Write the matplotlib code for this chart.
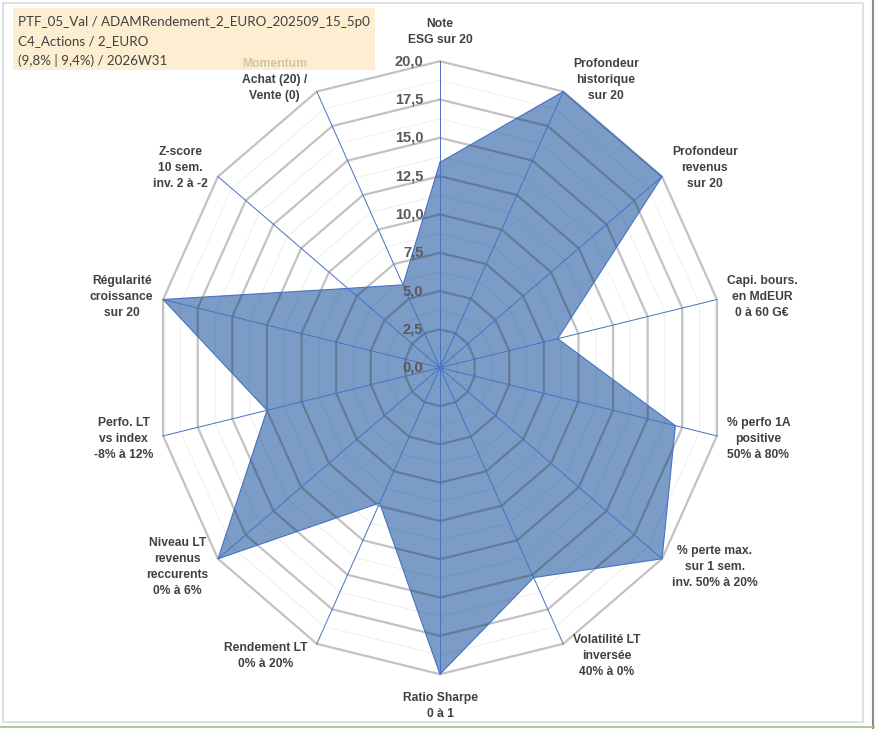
import numpy as np
import matplotlib
matplotlib.use('Agg')
import matplotlib.pyplot as plt
from matplotlib.patches import Rectangle
from matplotlib.lines import Line2D

# --- data -------------------------------------------------------------------
categories = [
    "Note\nESG sur 20",
    "Profondeur\nhistorique\nsur 20",
    "Profondeur\nrevenus\nsur 20",
    "Capi. bours.\nen MdEUR\n0 à 60 G€",
    "% perfo 1A\npositive\n50% à 80%",
    "% perte max.\nsur 1 sem.\ninv. 50% à 20%",
    "Volatilité LT\ninversée\n40% à 0%",
    "Ratio Sharpe\n0 à 1",
    "Rendement LT\n0% à 20%",
    "Niveau LT\nrevenus\nreccurents\n0% à 6%",
    "Perfo. LT\nvs index\n-8% à 12%",
    "Régularité\ncroissance\nsur 20",
    "Z-score\n10 sem.\ninv. 2 à -2",
    "Momentum\nAchat (20) /\nVente (0)",
]
values = [13.4, 20.0, 20.0, 8.5, 17.0, 20.0, 15.2, 20.0, 9.8, 20.0, 12.5, 20.0, 8.3, 6.0]
ticks = [0.0, 2.5, 5.0, 7.5, 10.0, 12.5, 15.0, 17.5, 20.0]
tick_labels = ['0,0', '2,5', '5,0', '7,5', '10,0', '12,5', '15,0', '17,5', '20,0']
title_lines = [
    "PTF_05_Val / ADAMRendement_2_EURO_202509_15_5p0",
    "C4_Actions / 2_EURO",
    "(9,8% | 9,4%) / 2026W31",
]

W, H = 875, 729
cx, cy = 440, 367.7          # centre in pixels
sx, sy = 284 / 20, 306.5 / 20  # px per unit (chart is a bit squashed horizontally)

fig = plt.figure(figsize=(W / 100, H / 100), dpi=100)
ax = fig.add_axes([0, 0, 1, 1])
ax.set_xlim(-cx / sx, (W - cx) / sx)
ax.set_ylim(-(H - cy) / sy, cy / sy)
ax.axis('off')

n = len(categories)
theta = np.arange(n) * 2 * np.pi / n
ux, uy = np.sin(theta), np.cos(theta)

def ring(r):
    return np.append(r * ux, r * ux[0]), np.append(r * uy, r * uy[0])

# filled series
v = np.array(values)
px, py = np.append(v * ux, v[0] * ux[0]), np.append(v * uy, v[0] * uy[0])
ax.fill(px, py, color='#7A9CC6', zorder=2, lw=0)
ax.plot(px, py, color='#4472C4', lw=0.8, zorder=4)

# grid rings (drawn over the fill, semi transparent)
for t in ticks[1:]:
    gx, gy = ring(t)
    ax.plot(gx, gy, color='#262626', alpha=0.28, lw=1.6, zorder=3)
for t in np.array(ticks[1:]) - 1.25:
    gx, gy = ring(t)
    ax.plot(gx, gy, color='#262626', alpha=0.07, lw=0.8, zorder=3)

# spokes
for k in range(n):
    ax.plot([0, 20 * ux[k]], [0, 20 * uy[k]], color='#4472C4', lw=0.7, zorder=5)

# radial tick labels
for t, lab in zip(ticks, tick_labels):
    ax.annotate(lab, (0, t), xytext=(-12, 0), textcoords='offset points',
                ha='right', va='center', fontsize=10.5, fontweight='bold',
                color='#595959', family='Liberation Sans', zorder=6)

# category labels
for k, lab in enumerate(categories):
    s, c = ux[k], uy[k]
    if abs(s) < 0.1:
        ha = 'center'
        va = 'bottom' if c > 0 else 'top'
        off = (0, 11 if c > 0 else -13)
    else:
        ha = 'left' if s > 0 else 'right'
        va = 'center'
        off = (7 if s > 0 else -7, 9.5 * c)
    ax.annotate(lab, (20 * s, 20 * c), xytext=off, textcoords='offset points',
                ha=ha, va=va, multialignment='center', fontsize=8.7,
                fontweight='bold', color='#404040', family='Liberation Sans',
                linespacing=1.45, zorder=6)

# title box (semi-opaque, sits over the Momentum label like in the original)
fig.patches.append(Rectangle((13 / W, 1 - 70 / H), 362 / W, 62 / H,
                             transform=fig.transFigure, facecolor='#FDEAC4',
                             alpha=0.78, edgecolor='none', zorder=10))
for i, line in enumerate(title_lines):
    fig.text(18 / W, 1 - (21.5 + 19.5 * i) / H, line, ha='left', va='center',
             fontsize=9.6, color='#404040', family='Lato', zorder=11)

# chart border
fig.patches.append(Rectangle((2.5 / W, 1 - 722 / H), 860.5 / W, 719.5 / H,
                             transform=fig.transFigure, fill=False,
                             edgecolor='#D9D9DF', lw=1.2))
fig.lines.append(Line2D([873 / W, 873 / W], [0, 1], transform=fig.transFigure,
                        color='#8C8C8C', lw=1.5))
fig.lines.append(Line2D([0, 1], [2.5 / H, 2.5 / H], transform=fig.transFigure,
                        color='#9CBF8C', lw=1.2))

fig.savefig('out.png', dpi=100)
